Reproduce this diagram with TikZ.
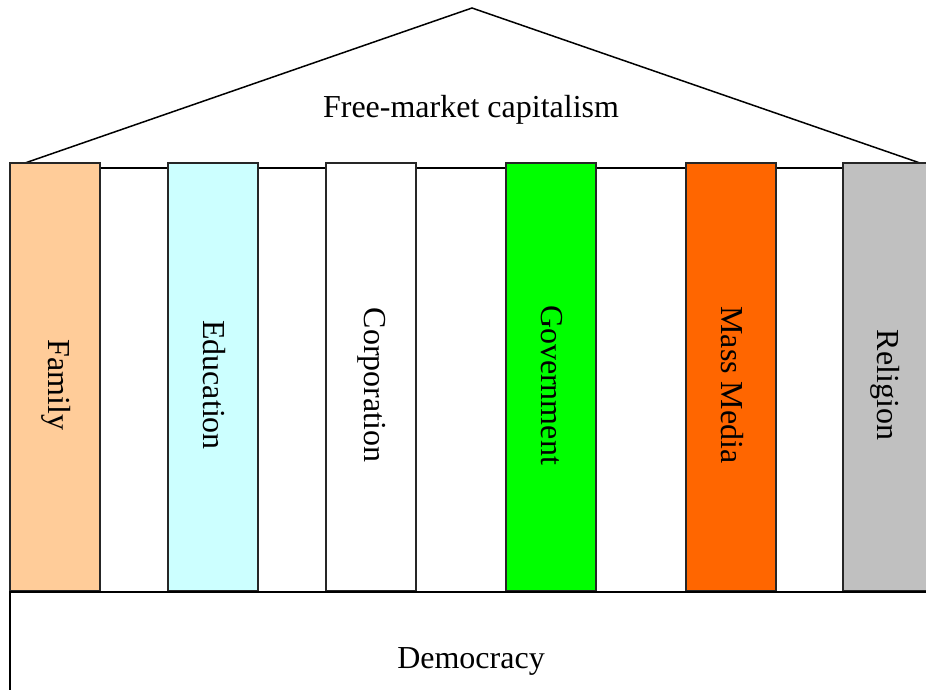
\documentclass[tikz,border=0pt]{standalone}
\usepackage{fontspec}
\setmainfont{Liberation Serif}
\definecolor{famc}{HTML}{FFCC99}
\definecolor{educ}{HTML}{CCFFFF}
\definecolor{govc}{HTML}{00FF00}
\definecolor{mmc}{HTML}{FF6600}
\definecolor{relc}{HTML}{C0C0C0}
\begin{document}
\begin{tikzpicture}[x=1pt,y=-1pt,
  line width=1.5pt,
  pillar/.style={draw=black!85, line width=1.5pt, rectangle, minimum width=90pt, minimum height=428pt, inner sep=0pt, outer sep=0pt},
  ptext/.style={rotate=-90, font=\fontsize{32}{36}\selectfont, inner sep=0pt},
  btext/.style={font=\fontsize{32}{36}\selectfont, inner sep=0pt}]
\useasboundingbox (0,0) rectangle (926,689);
\clip (0,0) rectangle (926,689);
\fill[white] (0,0) rectangle (926,689);
% roof
\coordinate (rl) at (25,163);
\coordinate (ra) at (472,8);
\coordinate (rr) at (920,163);
\draw (rl) -- (ra) -- (rr);
\node[btext] (fmc) at (471,110) {Free-market capitalism};
% beam
\coordinate (bl) at (100,168);
\coordinate (br) at (843,168);
\draw (bl) -- (br);
% pillars
\node[pillar, fill=famc] (fam) at (55,377) {};
\node[pillar, fill=educ] (edu) at (213,377) {};
\node[pillar, fill=white] (cor) at (371,377) {};
\node[pillar, fill=govc] (gov) at (551,377) {};
\node[pillar, fill=mmc] (mm) at (731,377) {};
\node[pillar, fill=relc] (rel) at (888,377) {};
\node[ptext] (tfam) at (56,385) {Family};
\node[ptext] (tedu) at (214,385) {Education};
\node[ptext] (tcor) at (372,385) {Corporation};
\node[ptext] (tgov) at (552,385) {Government};
\node[ptext] (tmm) at (732,385) {Mass Media};
\node[ptext] (trel) at (885,385) {Religion};
% base
\draw (10,592) rectangle (960,720);
\node[btext] (dem) at (471,661) {Democracy};
\end{tikzpicture}
\end{document}
